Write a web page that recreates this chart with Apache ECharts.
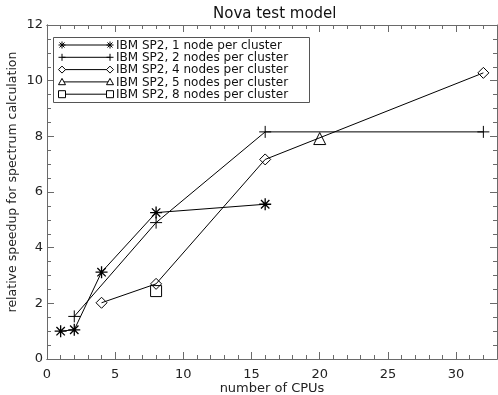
<!DOCTYPE html>
<html>
<head>
<meta charset="utf-8">
<script src="https://cdn.jsdelivr.net/npm/echarts@6/dist/echarts.min.js"></script>
<style>
  html, body { margin: 0; padding: 0; background: #fff; }
  #chart { width: 498px; height: 395px; }
</style>
</head>
<body>
<div id="chart"></div>
<script>
// values
const seriesNames = [
  "IBM SP2, 1 node per cluster",
  "IBM SP2, 2 nodes per cluster",
  "IBM SP2, 4 nodes per cluster",
  "IBM SP2, 5 nodes per cluster",
  "IBM SP2, 8 nodes per cluster"
];
const cpus1 = [1, 2, 4, 8, 16];
const speed1 = [1.0, 1.05, 3.12, 5.26, 5.56];
const cpus2 = [2, 8, 16, 32];
const speed2 = [1.53, 4.9, 8.16, 8.16];
const cpus4 = [4, 8, 16, 32];
const speed4 = [2.02, 2.7, 7.17, 10.28];
const cpus5 = [20];
const speed5 = [7.92];
const cpus8 = [8];
const speed8 = [2.44];

const FONT = "DejaVu Sans";
const AXIS_GREY = "#6a6a6a";
const GRID = { left: 47, top: 25, right: 1, bottom: 36, outerBoundsMode: "none", containLabel: false };

const SYMBOLS = {
  asterisk: "path://M0,-6L0,6M-6,0L6,0M-4.2,-4.2L4.2,4.2M-4.2,4.2L4.2,-4.2",
  plus: "path://M0,-6L0,6M-6,0L6,0",
  diamond: "diamond",
  triangle: "triangle",
  square: "rect"
};
const kinds = ["asterisk", "plus", "diamond", "triangle", "square"];
const sizes = [12, 12, 11, 12, 11];

function pairs(xs, ys) {
  return xs.map((x, i) => [x, ys[i]]);
}

const allData = [
  pairs(cpus1, speed1),
  pairs(cpus2, speed2),
  pairs(cpus4, speed4),
  pairs(cpus5, speed5),
  pairs(cpus8, speed8)
];

/**
 * one legend row marker, drawn with plain graphic shapes
 */
function legendMarker(kind, cx, cy) {
  const s = 3.5;
  const stroke = { stroke: "#000", lineWidth: 1, fill: null };
  const line = (x1, y1, x2, y2) => ({
    type: "line",
    shape: { x1, y1, x2, y2 },
    style: stroke
  });
  if (kind === "asterisk") {
    const d = s * 0.72;
    return [
      line(cx, cy - s, cx, cy + s),
      line(cx - s, cy, cx + s, cy),
      line(cx - d, cy - d, cx + d, cy + d),
      line(cx - d, cy + d, cx + d, cy - d)
    ];
  }
  if (kind === "plus") {
    return [line(cx, cy - s, cx, cy + s), line(cx - s, cy, cx + s, cy)];
  }
  if (kind === "diamond") {
    return [{
      type: "polygon",
      shape: { points: [[cx, cy - s], [cx + s, cy], [cx, cy + s], [cx - s, cy]] },
      style: { stroke: "#000", lineWidth: 1, fill: "#fff" }
    }];
  }
  if (kind === "triangle") {
    return [{
      type: "polygon",
      shape: { points: [[cx, cy - s], [cx + s, cy + s * 0.8], [cx - s, cy + s * 0.8]] },
      style: { stroke: "#000", lineWidth: 1, fill: "#fff" }
    }];
  }
  return [{
    type: "rect",
    shape: { x: cx - s, y: cy - s, width: 2 * s, height: 2 * s },
    style: { stroke: "#000", lineWidth: 1, fill: "#fff" }
  }];
}

function buildLegend() {
  const els = [{
    type: "rect",
    shape: { x: 53.5, y: 37.5, width: 256, height: 65 },
    style: { stroke: "#555", lineWidth: 1, fill: "#fff" },
    z: 10
  }];
  seriesNames.forEach((name, i) => {
    const y = 45 + i * 12.3;
    els.push({
      type: "line",
      shape: { x1: 62, y1: y, x2: 110, y2: y },
      style: { stroke: "#000", lineWidth: 1 },
      z: 11
    });
    legendMarker(kinds[i], 62, y).concat(legendMarker(kinds[i], 110, y)).forEach(el => {
      el.z = 12;
      els.push(el);
    });
    els.push({
      type: "text",
      x: 116,
      y: y + 0.5,
      style: {
        text: name,
        fill: "#111",
        font: `12px "${FONT}"`,
        verticalAlign: "middle"
      },
      z: 12
    });
  });
  return els;
}

function xAxisDef(gridIndex, position, interval, tickLen, showLabel) {
  return {
    type: "value",
    gridIndex: gridIndex,
    position: position,
    min: 0,
    max: 33,
    interval: interval,
    axisLine: { show: true, onZero: false, lineStyle: { color: AXIS_GREY, width: 1 } },
    axisTick: { show: true, inside: true, length: tickLen, lineStyle: { color: AXIS_GREY } },
    axisLabel: {
      show: showLabel,
      margin: 9,
      color: "#222",
      fontFamily: FONT,
      fontSize: 13,
      formatter: v => (v % 5 === 0 ? String(v) : "")
    },
    splitLine: { show: false }
  };
}

function yAxisDef(gridIndex, position, showLabel) {
  return {
    type: "value",
    gridIndex: gridIndex,
    position: position,
    min: 0,
    max: 12,
    interval: 2,
    axisLine: { show: true, onZero: false, lineStyle: { color: AXIS_GREY, width: 1 } },
    axisTick: { show: true, inside: true, length: 7, lineStyle: { color: AXIS_GREY } },
    minorTick: { show: true, splitNumber: 4, length: 4, lineStyle: { color: AXIS_GREY } },
    axisLabel: {
      show: showLabel,
      margin: 4,
      color: "#222",
      fontFamily: FONT,
      fontSize: 13,
      padding: [0, 0, 7, 0]
    },
    splitLine: { show: false }
  };
}

// grid 0 carries the data and the major ticks, grid 1 (same box) the minor x ticks
const xAxes = [
  xAxisDef(0, "bottom", 5, 7, true),
  xAxisDef(0, "top", 5, 7, false),
  xAxisDef(1, "bottom", 1, 4, false),
  xAxisDef(1, "top", 1, 4, false)
];
Object.assign(xAxes[0], {
  name: "number of CPUs",
  nameLocation: "middle",
  nameGap: 23,
  nameMoveOverlap: false,
  nameTextStyle: { color: "#222", fontFamily: FONT, fontSize: 13 }
});

const yAxes = [
  yAxisDef(0, "left", true),
  yAxisDef(0, "right", false),
  yAxisDef(1, "left", false)
];
Object.assign(yAxes[0], {
  name: "relative speedup for spectrum calculation",
  nameLocation: "middle",
  nameGap: 28,
  nameMoveOverlap: false,
  nameTextStyle: {
    color: "#222",
    fontFamily: FONT,
    fontSize: 12.5,
    padding: [0, 0, 0, 20]
  }
});

const series = allData.map((data, i) => ({
  name: seriesNames[i],
  type: "line",
  xAxisIndex: 0,
  yAxisIndex: 0,
  data: data,
  symbol: SYMBOLS[kinds[i]],
  symbolSize: sizes[i],
  showSymbol: true,
  lineStyle: { color: "#000", width: 1 },
  itemStyle: {
    color: "rgba(0,0,0,0)",
    borderColor: "#000",
    borderWidth: i === 0 ? 1.3 : 1
  },
  emphasis: { disabled: true },
  z: 3
}));

// empty series so the tick-only axes count as used
[1, 2, 3].forEach(ax => {
  series.push({
    type: "line",
    xAxisIndex: ax,
    yAxisIndex: ax === 1 ? 0 : 2,
    data: [],
    silent: true
  });
});

const chart = echarts.init(document.getElementById("chart"), null, { renderer: "canvas" });
chart.setOption({
  animation: false,
  backgroundColor: "#fff",
  title: {
    text: "Nova test model",
    left: 208,
    top: 2,
    textStyle: { color: "#111", fontFamily: FONT, fontSize: 15, fontWeight: "normal" }
  },
  grid: [Object.assign({}, GRID), Object.assign({}, GRID)],
  xAxis: xAxes,
  yAxis: yAxes,
  series: series,
  graphic: buildLegend()
});
</script>
</body>
</html>
